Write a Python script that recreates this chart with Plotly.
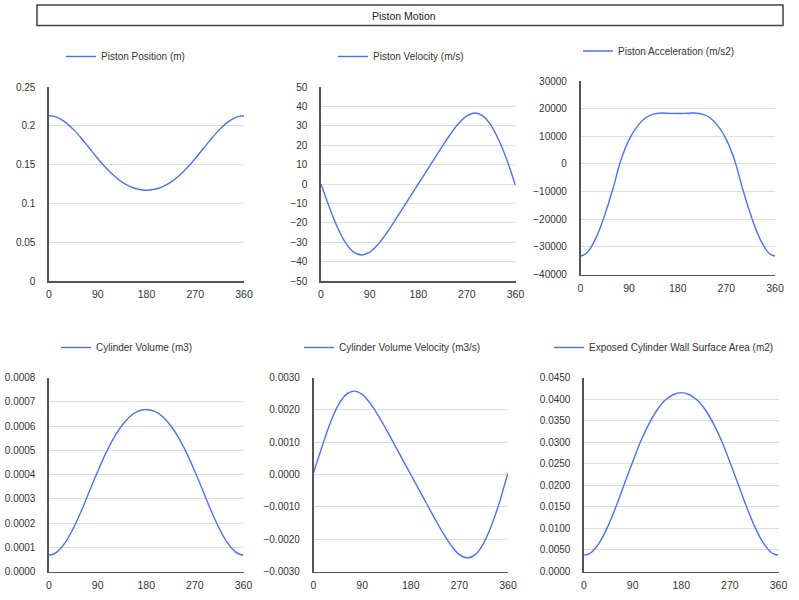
import plotly.graph_objects as go

# ---- data ----
crank_angle = [0, 7.5, 15, 30, 45, 60, 75, 90, 105, 120, 135, 150, 165, 180,
               195, 210, 225, 240, 255, 270, 285, 300, 315, 330, 345, 352.5, 360]
x_ticks = [0, 90, 180, 270, 360]

piston_position = [0.2130, 0.2125, 0.2109, 0.2048, 0.1954, 0.1837, 0.1708, 0.1579, 0.1459, 0.1357,
                   0.1275, 0.1217, 0.1182, 0.1170, 0.1182, 0.1217, 0.1275, 0.1357, 0.1459,
                   0.1579, 0.1708, 0.1837, 0.1954, 0.2048, 0.2109, 0.2125, 0.2130]
piston_velocity = [0, -5.9, -11.7, -22.0, -30.1, -35.0, -36.6, -35.1, -31.3, -25.9, -19.6, -13.1, -6.5, 0,
                   6.5, 13.1, 19.6, 25.9, 31.3, 35.1, 36.6, 35.0, 30.1, 22.0, 11.7, 5.5, -0.8]
piston_accel = [-33300, -32840, -31450, -26200, -18400, -9000, 1500, 8800, 13600, 16600, 18000, 18400,
                18300, 18250, 18300, 18400, 18000, 16600, 13600, 8800, 1500, -9000, -18400, -26200,
                -31450, -32840, -33300]
cyl_volume = [0.000068, 0.000071, 0.000081, 0.000119, 0.000178, 0.000251, 0.000332, 0.000412, 0.000487,
              0.000551, 0.000602, 0.000639, 0.000661, 0.000668, 0.000661, 0.000639, 0.000602, 0.000551,
              0.000487, 0.000412, 0.000332, 0.000251, 0.000178, 0.000119, 0.000081, 0.000071, 0.000068]
cyl_vol_velocity = [0.00005, 0.00044, 0.00082, 0.00155, 0.00212, 0.00247, 0.00258, 0.00248, 0.00220,
                    0.00182, 0.00138, 0.00092, 0.00046, 0.0, -0.00046, -0.00092, -0.00138, -0.00182,
                    -0.00220, -0.00248, -0.00258, -0.00247, -0.00212, -0.00155, -0.00082, -0.00038,
                    0.00005]
wall_area = [0.0038, 0.0040, 0.0046, 0.0070, 0.0107, 0.0153, 0.0204, 0.0254, 0.0302, 0.0342, 0.0374,
             0.0397, 0.0410, 0.0415, 0.0410, 0.0397, 0.0374, 0.0342, 0.0302, 0.0254, 0.0204, 0.0153,
             0.0107, 0.0070, 0.0046, 0.0040, 0.0038]

series_names = ["Piston Position (m)", "Piston Velocity (m/s)", "Piston Acceleration (m/s2)",
                "Cylinder Volume (m3)", "Cylinder Volume Velocity (m3/s)",
                "Exposed Cylinder Wall Surface Area (m2)"]
series_values = [piston_position, piston_velocity, piston_accel,
                 cyl_volume, cyl_vol_velocity, wall_area]
y_ranges = [[0, 0.25], [-50, 50], [-40000, 30000], [0, 0.0008], [-0.003, 0.003], [0, 0.045]]
y_dticks = [0.05, 10, 10000, 0.0001, 0.001, 0.005]
y_formats = ["", "", "d", ".4f", ".4f", ".4f"]

# ---- layout geometry (window pixels) ----
W, H = 799, 600
# (x_left, x_right, y_top, y_bottom) of each plot area
boxes = [(49, 244, 87, 281), (321, 515.5, 87, 281), (580.5, 775, 81, 274.5),
         (49, 243.5, 377.5, 571.5), (313.5, 508, 377.5, 571.5), (584, 778.5, 377.5, 571.5)]
legend_pos = [(103, 56.5), (375, 56.5), (620, 51), (98, 347.5), (341, 347.5), (591, 347.5)]


def px(x):
    return x / W


def py(y):
    return 1 - y / H


LINE = "#4a72f5"
FONT = "Liberation Sans, Arial, sans-serif"
TXT = "#333333"

fig = go.Figure()
layout = dict(width=W, height=H, margin=dict(l=0, r=0, t=0, b=0, autoexpand=False),
              paper_bgcolor="white", plot_bgcolor="white",
              font=dict(family=FONT, size=10, color=TXT))

for i in range(6):
    n = "" if i == 0 else str(i + 1)
    xl, xr, yt, yb = boxes[i]
    fig.add_trace(go.Scatter(
        x=crank_angle, y=series_values[i], mode="lines", name=series_names[i],
        line=dict(color=LINE, width=1.4, shape="spline"),
        xaxis="x" + n, yaxis="y" + n, legend="legend" + n, showlegend=True))
    layout["xaxis" + n] = dict(
        domain=[px(xl), px(xr)], range=[0, 360], tickvals=x_ticks, anchor="y" + n,
        showgrid=False, zeroline=False, showline=True, linecolor="#555555", linewidth=1.6,
        ticks="", ticklabelstandoff=3, tickfont=dict(size=10.5, color=TXT), fixedrange=True,
        automargin=False)
    layout["yaxis" + n] = dict(
        domain=[py(yb), py(yt)], range=y_ranges[i], dtick=y_dticks[i], tick0=0,
        tickformat=y_formats[i], anchor="x" + n,
        showgrid=True, gridcolor="#dddddd", gridwidth=1, zeroline=False,
        showline=True, linecolor="#555555", linewidth=1.6,
        ticks="", ticklabelstandoff=10, tickfont=dict(size=10, color=TXT), fixedrange=True,
        automargin=False)
    lx, ly = legend_pos[i]
    layout["legend" + n] = dict(
        x=px(lx - 42), y=py(ly), xanchor="left", yanchor="middle",
        orientation="h", bgcolor="rgba(0,0,0,0)", borderwidth=0,
        font=dict(size=10, color=TXT))

fig.update_layout(**layout)

# title box
fig.add_shape(type="rect", xref="paper", yref="paper",
              x0=px(37), x1=px(783), y0=py(25.5), y1=py(5),
              line=dict(color="#444444", width=1.5), fillcolor="rgba(0,0,0,0)")
fig.add_annotation(text="Piston Motion", xref="paper", yref="paper",
                   x=px(404), y=py(15.5), xanchor="center", yanchor="middle",
                   showarrow=False, font=dict(size=10.5, color="#222222", family=FONT))

fig.write_html(
    "out.html",
    config={"displayModeBar": False, "staticPlot": True},
    post_script="document.body.style.margin='0';document.body.style.padding='0';"
                "document.body.style.overflow='hidden';")
